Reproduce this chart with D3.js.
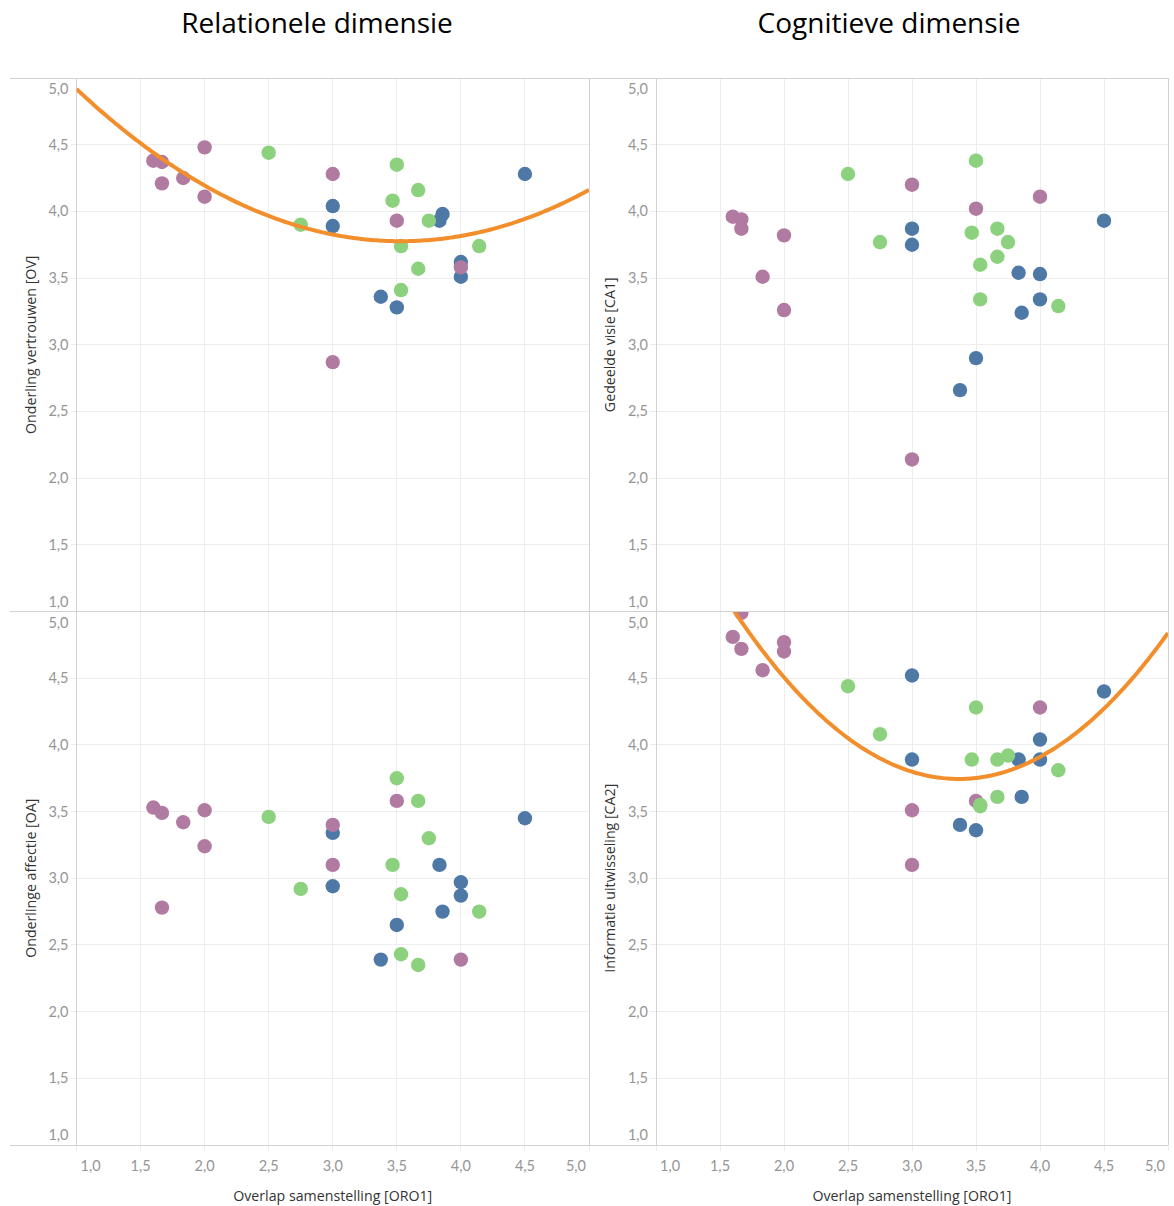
<!DOCTYPE html>
<html>
<head>
<meta charset="utf-8">
<script src="https://cdn.jsdelivr.net/npm/d3@7"></script>
<style>
  body { margin: 0; background: #fff; }
  svg { display: block; }
</style>
</head>
<body>
<svg id="svg" width="1174" height="1206"></svg>
<script>
// columns and rows of the 2x2 grid
const columnTitles = ['Relationele dimensie', 'Cognitieve dimensie'];
const xTitle = 'Overlap samenstelling [ORO1]';
const yTitles = [
	['Onderling vertrouwen [OV]', 'Gedeelde visie [CA1]'],
	['Onderlinge affectie [OA]', 'Informatie uitwisseling [CA2]']
];
const measures = [['OV', 'CA1'], ['OA', 'CA2']];
const trendMeasures = ['OV', 'CA2'];
const tickValues = [1, 1.5, 2, 2.5, 3, 3.5, 4, 4.5, 5];

const groups = ['blue', 'green', 'purple'];
const groupColors = ['#4e79a7', '#8cd17d', '#b07aa1'];

// overlap samenstelling (x) per group
const blueX = [3.0, 3.0, 3.375, 3.5, 3.833, 3.857, 4.0, 4.0, 4.5];
const greenX = [2.5, 2.75, 3.467, 3.5, 3.533, 3.533, 3.667, 3.667, 3.75, 4.143];
const purpleX = [1.6, 1.667, 1.667, 1.833, 2.0, 2.0, 3.0, 3.0, 3.5, 4.0];

const blueOV = [4.04, 3.89, 3.36, 3.28, 3.93, 3.98, 3.62, 3.51, 4.28];
const blueCA1 = [3.87, 3.75, 2.66, 2.9, 3.54, 3.24, 3.53, 3.34, 3.93];
const blueOA = [3.34, 2.94, 2.39, 2.65, 3.1, 2.75, 2.97, 2.87, 3.45];
const blueCA2 = [4.52, 3.89, 3.4, 3.36, 3.89, 3.61, 4.04, 3.89, 4.4];

const greenOV = [4.44, 3.9, 4.08, 4.35, 3.74, 3.41, 4.16, 3.57, 3.93, 3.74];
const greenCA1 = [4.28, 3.77, 3.84, 4.38, 3.6, 3.34, 3.87, 3.66, 3.77, 3.29];
const greenOA = [3.46, 2.92, 3.1, 3.75, 2.88, 2.43, 3.58, 2.35, 3.3, 2.75];
const greenCA2 = [4.44, 4.08, 3.89, 4.28, 3.55, 3.54, 3.89, 3.61, 3.92, 3.81];

const purpleOV = [4.38, 4.37, 4.21, 4.25, 4.48, 4.11, 4.28, 2.87, 3.93, 3.58];
const purpleCA1 = [3.96, 3.94, 3.87, 3.51, 3.82, 3.26, 4.2, 2.14, 4.02, 4.11];
const purpleOA = [3.53, 3.49, 2.78, 3.42, 3.51, 3.24, 3.4, 3.1, 3.58, 2.39];
const purpleCA2 = [4.81, 4.72, 4.99, 4.56, 4.77, 4.7, 3.51, 3.1, 3.58, 4.28];

const seriesX = { blue: blueX, green: greenX, purple: purpleX };
const seriesY = {
	blue: { OV: blueOV, CA1: blueCA1, OA: blueOA, CA2: blueCA2 },
	green: { OV: greenOV, CA1: greenCA1, OA: greenOA, CA2: greenCA2 },
	purple: { OV: purpleOV, CA1: purpleCA1, OA: purpleOA, CA2: purpleCA2 }
};

// layout
const colLeft = [76.5, 656];
const colRight = [589, 1168];
const rowTop = [78, 611.5];
const rowBottom = [611.5, 1145];
const frameLeft = 10;
const radius = 7.2;
const trendColor = '#f28e2b';
const gridColor = '#ededed';
const axisColor = '#d2d2d2';
const tickColor = '#959595';
const titleColor = '#333';
const axisFont = 'Lato, "Open Sans", sans-serif';
const axisTitleFont = '"Open Sans", Lato, sans-serif';

const nl = d3.formatLocale({ decimal: ',', thousands: '.', grouping: [3], currency: ['€', ''] });
const fmt = nl.format('.1f');

const svg = d3.select('#svg');

for (let r = 0; r < 2; r++) {
	for (let c = 0; c < 2; c++) {
		drawPanel(r, c);
	}
}
drawFrame();
drawTitles();


function drawPanel(r, c) {
	const measure = measures[r][c];
	const x = d3.scaleLinear().domain([1, 5]).range([colLeft[c], colRight[c]]);
	const y = d3.scaleLinear().domain([1, 5]).range([rowBottom[r], rowTop[r]]);
	const g = svg.append('g').attr('class', 'panel-' + measure);

	// grid
	g.selectAll('.vgrid')
		.data(tickValues.slice(1, -1))
		.enter()
		.append('line')
		.attr('x1', d => x(d)).attr('x2', d => x(d))
		.attr('y1', rowTop[r]).attr('y2', rowBottom[r])
		.attr('stroke', gridColor)
		.attr('shape-rendering', 'crispedges');

	g.selectAll('.hgrid')
		.data(tickValues.slice(1, -1))
		.enter()
		.append('line')
		.attr('x1', colLeft[c] - 6).attr('x2', colRight[c])
		.attr('y1', d => y(d)).attr('y2', d => y(d))
		.attr('stroke', gridColor)
		.attr('shape-rendering', 'crispedges');

	// y axis line
	g.append('line')
		.attr('x1', colLeft[c]).attr('x2', colLeft[c])
		.attr('y1', rowTop[r]).attr('y2', r === 1 ? rowBottom[r] + 6 : rowBottom[r])
		.attr('stroke', axisColor)
		.attr('shape-rendering', 'crispedges');

	// y tick labels
	g.selectAll('.ylab')
		.data(tickValues)
		.enter()
		.append('text')
		.attr('x', colLeft[c] - 8)
		.attr('y', (d, i) => y(d) + (i === tickValues.length - 1 ? 16 : i === 0 ? -5 : 5))
		.attr('text-anchor', 'end')
		.style('font-family', axisFont)
		.style('font-size', '14.5px')
		.style('fill', tickColor)
		.text(d => fmt(d));

	// y title
	g.append('text')
		.attr('transform', 'translate(' + (colLeft[c] - 41) + ',' + ((rowTop[r] + rowBottom[r]) / 2) + ') rotate(-90)')
		.attr('text-anchor', 'middle')
		.style('font-family', axisTitleFont)
		.style('font-size', '14.2px')
		.style('fill', titleColor)
		.text(yTitles[r][c]);

	// x axis (bottom row only)
	if (r === 1) {
		g.selectAll('.xtick')
			.data(tickValues)
			.enter()
			.append('line')
			.attr('x1', d => x(d)).attr('x2', d => x(d))
			.attr('y1', rowBottom[r]).attr('y2', rowBottom[r] + 6)
			.attr('stroke', gridColor)
			.attr('shape-rendering', 'crispedges');

		g.selectAll('.xlab')
			.data(tickValues)
			.enter()
			.append('text')
			.attr('x', (d, i) => x(d) + (i === 0 ? 4 : i === tickValues.length - 1 ? -3 : 0))
			.attr('y', rowBottom[r] + 26)
			.attr('text-anchor', (d, i) => i === 0 ? 'start' : i === tickValues.length - 1 ? 'end' : 'middle')
			.style('font-family', axisFont)
			.style('font-size', '14.5px')
			.style('fill', tickColor)
			.text(d => fmt(d));

		g.append('text')
			.attr('x', (colLeft[c] + colRight[c]) / 2)
			.attr('y', rowBottom[r] + 56)
			.attr('text-anchor', 'middle')
			.style('font-family', axisTitleFont)
			.style('font-size', '14.2px')
			.style('fill', titleColor)
			.text(xTitle);
	}

	// clip
	const clipId = 'clip-' + measure;
	svg.append('clipPath')
		.attr('id', clipId)
		.append('rect')
		.attr('x', colLeft[c]).attr('y', rowTop[r])
		.attr('width', colRight[c] - colLeft[c])
		.attr('height', rowBottom[r] - rowTop[r]);

	const marks = g.append('g').attr('clip-path', 'url(#' + clipId + ')');

	const points = [];
	['blue', 'purple', 'green'].forEach(name => {
		seriesX[name].forEach((xv, i) => {
			points.push({ x: xv, y: seriesY[name][measure][i], color: groupColors[groups.indexOf(name)] });
		});
	});

	marks.selectAll(null)
		.data(points)
		.enter()
		.append('circle')
		.attr('cx', d => x(d.x))
		.attr('cy', d => y(d.y))
		.attr('r', radius)
		.attr('fill', d => d.color);

	if (trendMeasures.includes(measure)) {
		const coef = fitQuadratic(points);
		const xs = d3.range(1, 5.001, 0.02);
		const line = d3.line()
			.x(d => x(d))
			.y(d => y(coef[0] + coef[1] * d + coef[2] * d * d));
		marks.append('path')
			.attr('d', line(xs))
			.style('fill', 'none')
			.style('stroke', trendColor)
			.style('stroke-width', '4px');
	}
}

// least squares polynomial (degree 2) like the Tableau trend model
function fitQuadratic(points) {
	const s = [0, 0, 0, 0, 0];
	const t = [0, 0, 0];
	points.forEach(p => {
		for (let k = 0; k < 5; k++) s[k] += Math.pow(p.x, k);
		for (let k = 0; k < 3; k++) t[k] += p.y * Math.pow(p.x, k);
	});
	const m = [
		[s[0], s[1], s[2], t[0]],
		[s[1], s[2], s[3], t[1]],
		[s[2], s[3], s[4], t[2]]
	];
	for (let i = 0; i < 3; i++) {
		for (let j = i + 1; j < 3; j++) {
			const f = m[j][i] / m[i][i];
			for (let k = i; k < 4; k++) m[j][k] -= f * m[i][k];
		}
	}
	const b = [0, 0, 0];
	for (let i = 2; i >= 0; i--) {
		let v = m[i][3];
		for (let k = i + 1; k < 3; k++) v -= m[i][k] * b[k];
		b[i] = v / m[i][i];
	}
	return b;
}

function drawFrame() {
	const hLines = [rowTop[0], rowBottom[0], rowBottom[1]];
	svg.selectAll('.hframe')
		.data(hLines)
		.enter()
		.append('line')
		.attr('x1', frameLeft).attr('x2', colRight[1])
		.attr('y1', d => d).attr('y2', d => d)
		.attr('stroke', axisColor)
		.attr('shape-rendering', 'crispedges');

	svg.selectAll('.vframe')
		.data(colRight)
		.enter()
		.append('line')
		.attr('x1', d => d).attr('x2', d => d)
		.attr('y1', rowTop[0]).attr('y2', rowBottom[1])
		.attr('stroke', axisColor)
		.attr('shape-rendering', 'crispedges');
}

function drawTitles() {
	const titleX = [317, 889];
	svg.selectAll('.coltitle')
		.data(columnTitles)
		.enter()
		.append('text')
		.attr('x', (d, i) => titleX[i])
		.attr('y', 33)
		.attr('text-anchor', 'middle')
		.style('font-family', '"Open Sans", sans-serif')
		.style('font-size', '28px')
		.style('fill', '#000')
		.text(d => d);
}
</script>
</body>
</html>
